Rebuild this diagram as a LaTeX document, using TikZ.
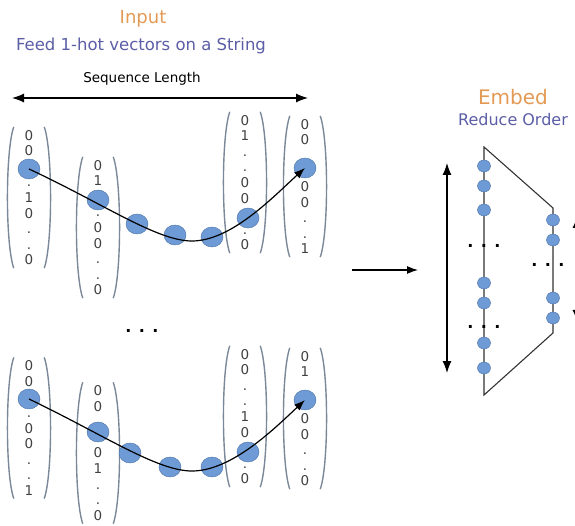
\documentclass[tikz,border=0pt]{standalone}
\usepackage{fontspec}
\setmainfont{DejaVu Sans}
\usetikzlibrary{shapes.geometric, arrows.meta}

\definecolor{titleorange}{HTML}{E39A55}
\definecolor{subblue}{HTML}{5B5EA6}
\definecolor{ballfill}{HTML}{6E9BD6}
\definecolor{balldraw}{HTML}{4A6FA5}
\definecolor{parengray}{HTML}{7A8898}

\begin{document}
\begin{tikzpicture}[x=1pt, y=1pt,
  ball/.style={draw=balldraw, fill=ballfill, ellipse, minimum width=22pt, minimum height=20pt, inner sep=0pt},
  unit/.style={draw=balldraw, fill=ballfill, ellipse, minimum width=13pt, minimum height=12pt, inner sep=0pt},
  onehot/.style={align=center, inner xsep=0pt, inner ysep=3pt, minimum width=30pt, text=black!75, font=\fontsize{13.5}{15.6}\selectfont},
  paren/.style={parengray, line width=1.4pt},
  lbow/.style={out=250, in=110, looseness=0.45},
  rbow/.style={out=-70, in=70, looseness=0.45},
  string/.style={-{Latex[length=11pt,width=8pt]}, line width=1.2pt},
  span/.style={{Latex[length=12pt,width=9pt]}-{Latex[length=12pt,width=9pt]}, line width=1.2pt},
  more/.style={font=\bfseries\fontsize{16}{16}\selectfont}]
\useasboundingbox (0,0) rectangle (575,-526);

% Titles
\node[font=\fontsize{18}{20}\selectfont, text=titleorange] (intitle) at (143,-19) {Input};
\node[font=\fontsize{16.5}{18}\selectfont, text=subblue] (insub) at (141,-46) {Feed 1-hot vectors on a String};
\node[font=\fontsize{20}{22}\selectfont, text=titleorange] (embtitle) at (513,-97) {Embed};
\node[font=\fontsize{16}{18}\selectfont, text=subblue] (embsub) at (513,-120) {Reduce Order};

% Sequence length
\coordinate (seql) at (12,-98);
\coordinate (seqr) at (308,-98);
\draw[span] (seql) -- (seqr);
\node[font=\fontsize{13.5}{15}\selectfont] (seqlab) at (142,-79) {Sequence Length};

% one-hot vectors, top string
\node[onehot] (t1) at (29,-197.5) {0\\0\\.\\.\\1\\0\\.\\.\\0};
\node[onehot] (t2) at (98,-227.5) {0\\1\\.\\.\\0\\0\\.\\.\\0};
\node[onehot] (t3) at (245,-182.5) {0\\1\\.\\.\\0\\0\\.\\.\\0};
\node[onehot] (t4) at (305,-186.5) {0\\0\\.\\.\\0\\0\\.\\.\\1};
% one-hot vectors, bottom string
\node[onehot] (b1) at (29,-428) {0\\0\\.\\.\\0\\0\\.\\.\\1};
\node[onehot] (b2) at (98,-453) {0\\0\\.\\.\\0\\1\\.\\.\\0};
\node[onehot] (b3) at (245,-416.5) {0\\0\\.\\.\\1\\0\\.\\.\\0};
\node[onehot] (b4) at (305,-418.5) {0\\1\\.\\.\\0\\0\\.\\.\\0};

\draw[paren] (t1.north west) to[lbow] (t1.south west) (t1.north east) to[rbow] (t1.south east);
\draw[paren] (t2.north west) to[lbow] (t2.south west) (t2.north east) to[rbow] (t2.south east);
\draw[paren] (t3.north west) to[lbow] (t3.south west) (t3.north east) to[rbow] (t3.south east);
\draw[paren] (t4.north west) to[lbow] (t4.south west) (t4.north east) to[rbow] (t4.south east);
\draw[paren] (b1.north west) to[lbow] (b1.south west) (b1.north east) to[rbow] (b1.south east);
\draw[paren] (b2.north west) to[lbow] (b2.south west) (b2.north east) to[rbow] (b2.south east);
\draw[paren] (b3.north west) to[lbow] (b3.south west) (b3.north east) to[rbow] (b3.south east);
\draw[paren] (b4.north west) to[lbow] (b4.south west) (b4.north east) to[rbow] (b4.south east);

% String beads
\node[ball] (tc1) at (29,-169) {};
\node[ball] (tc2) at (98,-200) {};
\node[ball] (tc3) at (137,-224) {};
\node[ball] (tc4) at (175,-235) {};
\node[ball] (tc5) at (212,-237) {};
\node[ball] (tc6) at (248,-218) {};
\node[ball] (tc7) at (305,-168) {};
\node[ball] (bc1) at (29,-399) {};
\node[ball] (bc2) at (98,-432) {};
\node[ball] (bc3) at (130,-453) {};
\node[ball] (bc4) at (170,-467) {};
\node[ball] (bc5) at (212,-467) {};
\node[ball] (bc6) at (248,-452) {};
\node[ball] (bc7) at (305,-400) {};
\coordinate (tlow) at (192,-241);
\coordinate (blow) at (192,-471);
\draw[string] (tc1.center) .. controls +(75,-35) and +(-35,0) .. (tlow) .. controls +(40,0) and +(-30,-27) .. (tc7.center);
\draw[string] (bc1.center) .. controls +(75,-36) and +(-35,0) .. (blow) .. controls +(40,0) and +(-30,-28) .. (bc7.center);

\node[more] (vdots) at (142,-331) {. . .};

% Into the embedding
\coordinate (gapl) at (352,-270);
\coordinate (gapr) at (418,-270);
\draw[string] (gapl) -- (gapr);
\coordinate (embt) at (447,-163);
\coordinate (embb) at (447,-373);
\draw[span] (embt) -- (embb);

\draw[line width=1.1pt, black!80] (484,-147) -- (553,-208) -- (553,-333) -- (484,-395) -- cycle;
\node[unit] (lc1) at (484,-166) {};
\node[unit] (lc2) at (484,-186) {};
\node[unit] (lc3) at (484,-210) {};
\node[unit] (lc4) at (484,-283) {};
\node[unit] (lc5) at (484,-303) {};
\node[unit] (lc6) at (484,-343) {};
\node[unit] (lc7) at (484,-368) {};
\node[unit] (rc1) at (553,-220) {};
\node[unit] (rc2) at (553,-240) {};
\node[unit] (rc3) at (553,-298) {};
\node[unit] (rc4) at (553,-318) {};
\node[more] (ldots1) at (484,-246) {. . .};
\node[more] (ldots2) at (484,-327) {. . .};
\node[more] (rdots) at (548,-265) {. . .};

% cut at the right edge
\coordinate (outt) at (577,-216);
\coordinate (outb) at (577,-322);
\draw[span] (outt) -- (outb);
\end{tikzpicture}
\end{document}
